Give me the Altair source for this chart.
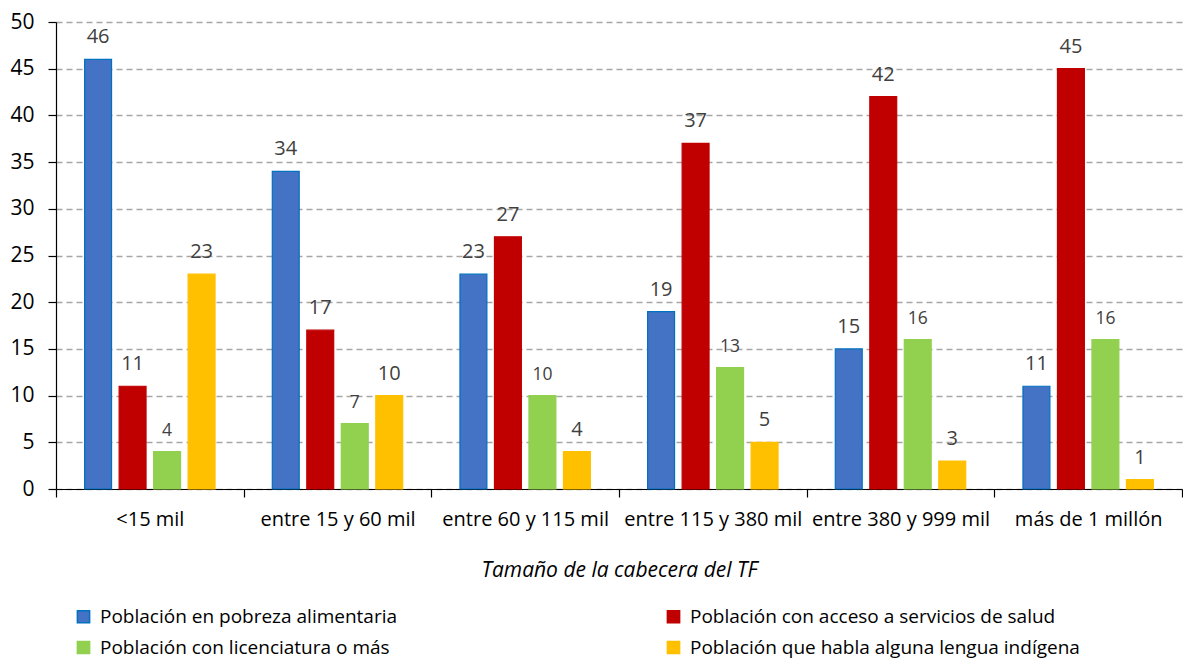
import altair as alt
import pandas as pd

categories = ["<15 mil", "entre 15 y 60 mil", "entre 60 y 115 mil",
              "entre 115 y 380 mil", "entre 380 y 999 mil", "más de 1 millón"]
series = ["Población en pobreza alimentaria",
          "Población con acceso a servicios de salud",
          "Población con licenciatura o más",
          "Población que habla alguna lengua indígena"]
pobreza = [46, 34, 23, 19, 15, 11]
salud = [11, 17, 27, 37, 42, 45]
licenciatura = [4, 7, 10, 13, 16, 16]
indigena = [23, 10, 4, 5, 3, 1]
colors = ["#4472C4", "#C00000", "#92D050", "#FFC000"]
strokes = ["#0070C0", "#C00000", "#92D050", "#FFC000"]
y_ticks = list(range(0, 51, 5))

rows = []
for s, vals in zip(series, [pobreza, salud, licenciatura, indigena]):
    for c, v in zip(categories, vals):
        rows.append({"cat": c, "serie": s, "valor": v})
df = pd.DataFrame(rows)

FONT = "Open Sans"

x = alt.X("cat:N", sort=categories,
          scale=alt.Scale(paddingInner=0, paddingOuter=0),
          axis=alt.Axis(title="Tamaño de la cabecera del TF", labelAngle=0,
                        tickBand="extent", tickSize=8, labelPadding=12,
                        titlePadding=30, titleFontStyle="italic",
                        titleFontWeight="normal", titleFontSize=21,
                        labelFontSize=20, labelLimit=300, grid=False))
xo = alt.XOffset("serie:N", sort=series,
                 scale=alt.Scale(paddingInner=0.22, paddingOuter=0.83))
y = alt.Y("valor:Q", scale=alt.Scale(domain=[0, 50], nice=False),
          axis=alt.Axis(title=None, values=y_ticks, tickSize=8, labelPadding=14,
                        labelFontSize=21, grid=True, gridDash=[6, 4],
                        gridColor="#A6A6A6", gridWidth=1.3))

bars = alt.Chart(df).mark_bar(strokeWidth=1.2).encode(
    x=x, xOffset=xo, y=y,
    color=alt.Color("serie:N", sort=series,
                    scale=alt.Scale(domain=series, range=colors),
                    legend=alt.Legend(title=None, orient="none", legendX=18,
                                      legendY=585, columns=2, columnPadding=266,
                                      rowPadding=11, symbolType="square",
                                      symbolSize=150, labelFontSize=19,
                                      labelLimit=600, labelOffset=7,
                                      labelColor="#000000",
                                      direction="horizontal")),
    stroke=alt.Stroke("serie:N", sort=series,
                      scale=alt.Scale(domain=series, range=strokes)),
)

green = series[2]
labels_main = alt.Chart(df).transform_filter(
    alt.datum.serie != green
).mark_text(baseline="bottom", dy=-12, color="#404040", font=FONT,
            fontSize=20).encode(x=x, xOffset=xo, y=y, text="valor:Q")
labels_green = alt.Chart(df).transform_filter(
    alt.datum.serie == green
).mark_text(baseline="bottom", dy=-12, color="#404040", font=FONT,
            fontSize=17.5).encode(x=x, xOffset=xo, y=y, text="valor:Q")

chart = alt.layer(bars, labels_main, labels_green).properties(
    width=1126, height=467,
    padding={"left": 1, "top": 3, "right": 0, "bottom": 0},
).configure_view(stroke=None).configure_axis(
    labelFont=FONT, titleFont=FONT, labelColor="#000000", titleColor="#000000",
    domainColor="#000000", tickColor="#000000", domainWidth=1.2, tickWidth=1.2,
).configure_legend(labelFont=FONT)

chart.save("out.html", embed_options={"renderer": "svg", "actions": False})
